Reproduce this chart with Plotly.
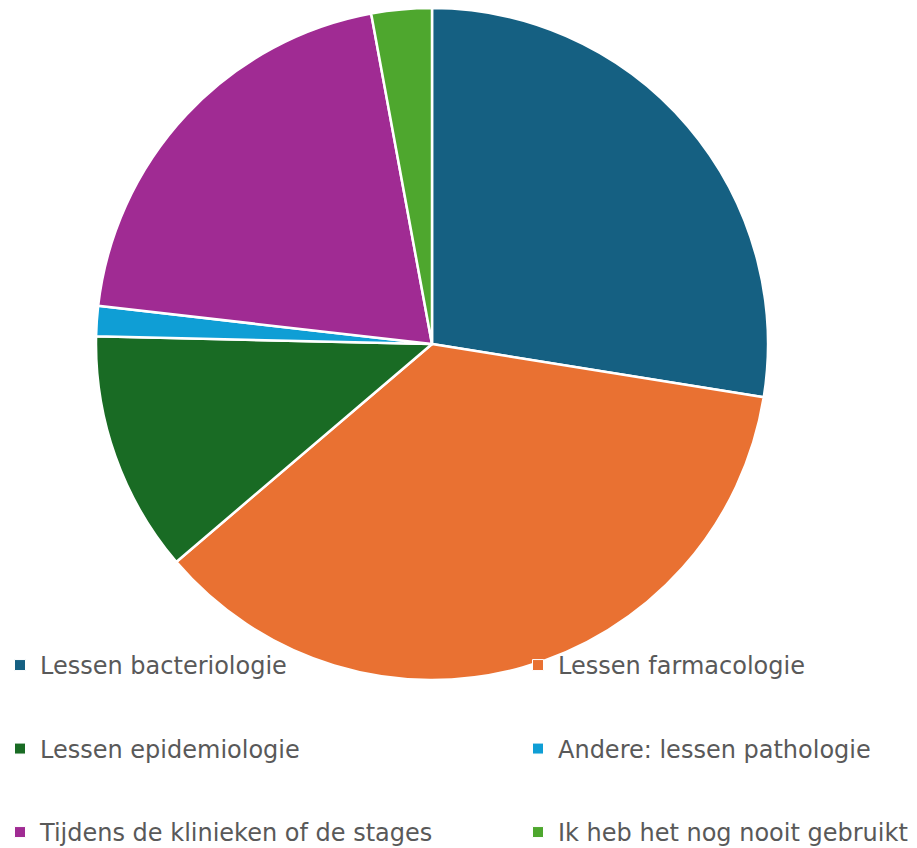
import plotly.graph_objects as go

labels = ["Lessen bacteriologie", "Lessen farmacologie", "Lessen epidemiologie",
          "Andere: lessen pathologie", "Tijdens de klinieken of de stages",
          "Ik heb het nog nooit gebruikt"]
counts = [19, 25, 8, 1, 14, 2]
colors = ["#156082", "#E97132", "#196B24", "#0F9ED5", "#A02B93", "#4EA72E"]

W, H = 917, 848

fig = go.Figure()
fig.add_trace(go.Pie(
    labels=labels, values=counts, sort=False, direction="clockwise", rotation=0,
    marker=dict(colors=colors, line=dict(color="white", width=2.5)),
    textinfo="none", showlegend=False,
    domain=dict(x=[96/W, 768/W], y=[1 - 680/H, 1 - 8/H]),
    hovertemplate="%{label}: %{value} (%{percent})<extra></extra>",
))

# legend in two columns (left: 1,3,5 / right: 2,4,6), like the Office layout
for i, (lab, col) in enumerate(zip(labels, colors)):
    fig.add_trace(go.Scatter(
        x=[None], y=[None], mode="markers", name=lab, legendgroup=lab,
        marker=dict(symbol="square", size=11, color=col, line=dict(color="white", width=1)),
        legend="legend" if i % 2 == 0 else "legend2", hoverinfo="skip",
    ))

leg = dict(orientation="v", yanchor="top", y=0.2418, xanchor="left",
           traceorder="grouped", tracegroupgap=49.3, bgcolor="rgba(0,0,0,0)",
           font=dict(family="DejaVu Sans", size=24, color="#595959"))
fig.update_layout(
    width=W, height=H, margin=dict(l=0, r=0, t=0, b=0, autoexpand=False),
    paper_bgcolor="white", plot_bgcolor="white",
    xaxis=dict(visible=False), yaxis=dict(visible=False),
    legend=dict(leg, x=0.0),
    legend2=dict(leg, x=518/W),
)
# drop the browser's default 8px body margin so the figure fills the window
fig.write_html("out.html", config={"displayModeBar": False},
               post_script="document.body.style.margin='0';")
